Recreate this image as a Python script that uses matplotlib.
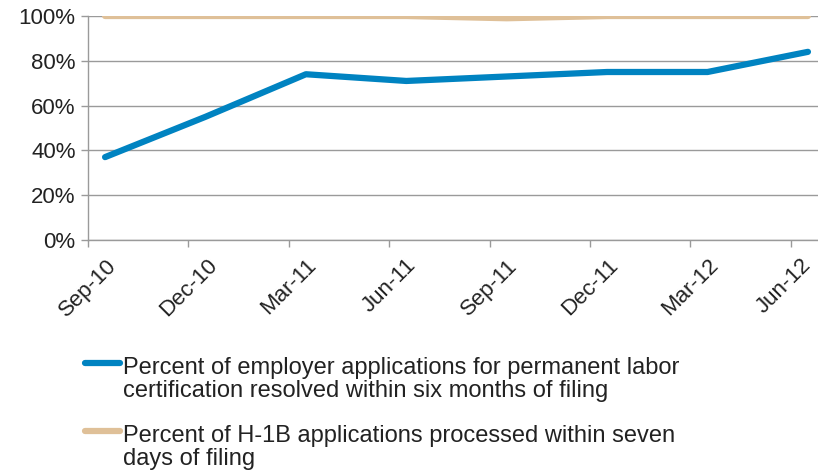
import matplotlib
matplotlib.use("Agg")
import matplotlib.pyplot as plt
from matplotlib.lines import Line2D
from matplotlib.ticker import FuncFormatter

# données
trimestres = ["Sep-10", "Dec-10", "Mar-11", "Jun-11", "Sep-11", "Dec-11", "Mar-12", "Jun-12"]
labor_cert = [37, 55, 74, 71, 73, 75, 75, 84]
h1b = [100, 100, 100, 100, 99, 100, 100, 100]

label_labor = "Percent of employer applications for permanent labor\ncertification resolved within six months of filing"
label_h1b = "Percent of H-1B applications processed within seven\ndays of filing"

BLEU = "#0083c1"
BEIGE = "#dfc098"
GRIS = "#9a9a9a"
TEXTE = "#222222"

plt.rcParams["font.family"] = ["Liberation Sans", "DejaVu Sans"]

W, H = 818, 472
fig = plt.figure(figsize=(W / 100, H / 100), dpi=100)
ax = fig.add_axes([88 / W, 1 - 240 / H, 1 - 88 / W, 224 / H])

x = list(range(len(trimestres)))
ln1, = ax.plot(x, labor_cert, color=BLEU, lw=4.5, solid_capstyle="round", zorder=3)
ln2, = ax.plot(x, h1b, color=BEIGE, lw=4.5, solid_capstyle="round", zorder=3)

# les points sont décalés par rapport aux graduations (axe de dates)
decalage = 0.17
positions = [i - decalage for i in x]
ax.set_xticks(positions)
ax.set_xticklabels([])
ax.set_xlim(-decalage, -decalage + 7.27)

# étiquettes posées à la main (la dernière est rentrée pour ne pas sortir du cadre)
trans = ax.get_xaxis_transform()
for i, (pos, lab) in enumerate(zip(positions, trimestres)):
    if i == len(trimestres) - 1:
        pos -= 0.07
    ax.text(pos, -15 / 224, lab, transform=trans, rotation=45, ha="center", va="top",
            fontsize=16, color=TEXTE, clip_on=False)

ax.set_ylim(0, 100)
ax.set_yticks(range(0, 101, 20))
ax.yaxis.set_major_formatter(FuncFormatter(lambda v, p: f"{v:.0f}%"))
ax.tick_params(axis="y", labelsize=16, labelcolor=TEXTE, length=5, color=GRIS, width=1, pad=4)
ax.tick_params(axis="x", length=5, color=GRIS, width=1)

ax.grid(axis="y", color=GRIS, lw=1)
ax.set_axisbelow(True)
for cote in ("top", "right"):
    ax.spines[cote].set_visible(False)
for cote in ("left", "bottom"):
    ax.spines[cote].set_color(GRIS)
    ax.spines[cote].set_linewidth(1)

# légende dessinée à la main : le trait est aligné sur la première ligne du texte
for ligne, label, y_px in ((ln1, label_labor, 363), (ln2, label_h1b, 431)):
    y = 1 - y_px / H
    fig.add_artist(Line2D([85 / W, 120 / W], [y, y], transform=fig.transFigure,
                          color=ligne.get_color(), lw=4.5, solid_capstyle="round"))
    fig.text(123 / W, y + 6 / H, label, ha="left", va="top", fontsize=17,
             color=TEXTE, linespacing=1.04)

fig.savefig("out.png", dpi=100)
